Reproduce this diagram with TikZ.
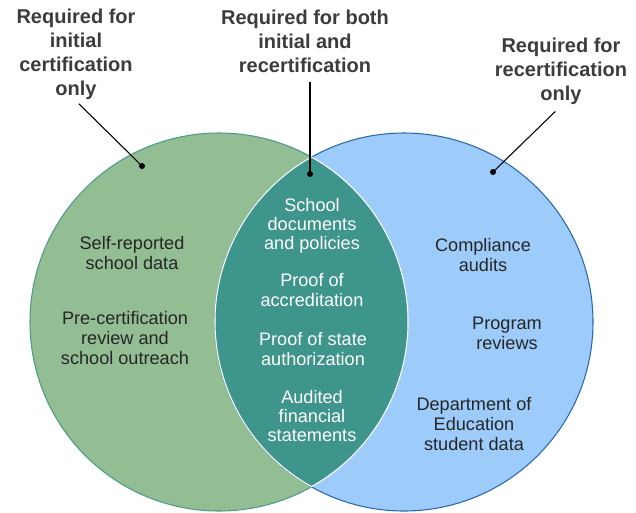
\documentclass[tikz,border=0pt]{standalone}
\usepackage{fontspec}
\setmainfont{Liberation Sans}
\usetikzlibrary{calc}
\usepackage{xcolor}
\definecolor{initgreen}{HTML}{93BD93}
\definecolor{initedge}{HTML}{4E9C88}
\definecolor{recblue}{HTML}{9DCBFA}
\definecolor{recedge}{HTML}{2A68B0}
\definecolor{bothteal}{HTML}{3E958B}
\definecolor{dark}{HTML}{262626}
\tikzset{
  heading/.style={align=center, font=\fontsize{15}{18}\selectfont\bfseries, text=dark!90, inner sep=1pt},
  item/.style={align=center, font=\fontsize{13.6}{15}\selectfont, text=dark, inner sep=1pt},
  lensitem/.style={item, text=white, font=\fontsize{13.6}{14.3}\selectfont},
  leader/.style={draw=black, thick},
  pin/.style={circle, fill=black, inner sep=0pt, minimum size=4.5pt}
}

\begin{document}
\begin{tikzpicture}[x=0.75pt, y=-0.75pt]
  \useasboundingbox (0,0) rectangle (636,512);

  % the two sets
  \draw[fill=initgreen, draw=initedge, thick] (219,322) circle[radius=189];
  \draw[fill=recblue, draw=recedge, thick] (404,322) circle[radius=189];
  % overlap of both sets (y axis points down, so angles run clockwise)
  \draw[fill=bothteal, draw=white, thick] (311.5,157) arc[start angle=-60.7, end angle=60.7, radius=189]
    arc[start angle=119.3, end angle=240.7, radius=189] -- cycle;

  % headings
  \node[heading] (hinit) at (76,54) {Required for\\initial\\certification\\only};
  \node[heading] (hboth) at (305,41) {Required for both\\initial and\\recertification};
  \node[heading] (hrecert) at (561,71) {Required for\\recertification\\only};

  % pins
  \node[pin] (dinit) at (142,166) {};
  \node[pin] (dboth) at (310,174) {};
  \node[pin] (drecert) at (493,172) {};

  \draw[leader, shorten <=3pt] (hinit.south) -- (dinit.center);
  \draw[leader] ($(hboth.south -| dboth)+(0,8)$) -- (dboth.center);
  \draw[leader, shorten <=6pt] (hrecert.south) -- (drecert.center);

  % initial certification only
  \node[item] (selfdata) at (132,253) {Self-reported\\school data};
  \node[item] (precert) at (125,338) {Pre-certification\\review and\\school outreach};

  % both
  \node[lensitem] (docs) at (312,226) {School\\documents\\and policies};
  \node[lensitem] (accred) at (312,290) {Proof of\\accreditation};
  \node[lensitem] (stateauth) at (313,349) {Proof of state\\authorization};
  \node[lensitem] (audited) at (312,416) {Audited\\financial\\statements};

  % recertification only
  \node[item] (compliance) at (483,255) {Compliance\\audits};
  \node[item] (progrev) at (507,333) {Program\\reviews};
  \node[item] (edudata) at (474,424) {Department of\\Education\\student data};
\end{tikzpicture}
\end{document}
